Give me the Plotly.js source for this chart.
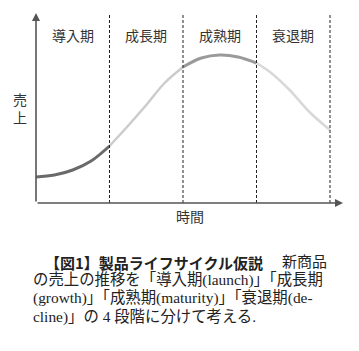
<!DOCTYPE html>
<html><head><meta charset="utf-8">
<script src="https://cdn.plot.ly/plotly-3.0.1.min.js"></script>
<style>html,body{margin:0;padding:0;background:#fff;}#chart{width:359px;height:351px;}</style>
</head><body><div id="chart"></div>
<script>
// Phases (categories)
const phases = ["導入期", "成長期", "成熟期", "衰退期"];
const phaseBounds = [0, 1, 2, 3, 4];
// Sales curve, per phase (x = time, y = sales)
const introX = [0, 0.25, 0.5, 0.75, 1.0];
const introY = [26, 28, 33, 42, 57];
const growthX = [1.0, 1.25, 1.5, 1.75, 2.0];
const growthY = [57, 77, 98, 120, 136];
const maturityX = [2.0, 2.25, 2.5, 2.75, 3.0];
const maturityY = [136, 145, 148, 146, 140];
const declineX = [3.0, 3.2, 3.45, 3.72, 4.0];
const declineY = [140, 130, 113, 91, 73];
const yLabel = "売<br>上";
const xLabel = "時間";
const captionTitle = "【図1】製品ライフサイクル仮説";
const captionLines = [
  "新商品",
  "の売上の推移を「導入期(launch)」「成長期",
  "(growth)」「成熟期(maturity)」「衰退期(de-",
  "cline)」の 4 段階に分けて考える."
];

const serif = "Liberation Serif, DejaVu Serif, Noto Sans CJK JP, serif";
const sans = "Noto Sans CJK JP, sans-serif";

const seg = (x, y, color, w) => ({x, y, type: "scatter", mode: "lines",
  line: {color, width: w, shape: "spline"}, hoverinfo: "skip", showlegend: false});

const data = [
  seg(introX, introY, "#6a6a6a", 3),
  seg(growthX, growthY, "#cccccc", 2.5),
  seg(maturityX, maturityY, "#9a9a9a", 3),
  seg(declineX, declineY, "#d8d8d8", 2.5)
];

const plotTop = 13, plotBottom = 203, H = plotBottom - plotTop;
const py = p => (plotBottom - p) / H; // pixel y -> paper y
const px = p => (p - 36) / 307;

const shapes = phaseBounds.slice(1).map(b => ({type: "line", xref: "x", yref: "paper",
  x0: b, x1: b, y0: 0, y1: 1, line: {color: "#222", width: 1, dash: "3px,2px"}}));

const annotations = [];
phases.forEach((p, i) => annotations.push({xref: "x", yref: "paper",
  x: (phaseBounds[i] + phaseBounds[i + 1]) / 2, y: py(37), yanchor: "middle", text: p, showarrow: false,
  font: {family: serif, size: 14, color: "#333"}}));
// axes with arrows
annotations.push({xref: "paper", yref: "paper", x: 1, y: 0, ax: -307, ay: 0, text: "",
  showarrow: true, arrowhead: 2, arrowsize: 1, arrowwidth: 1.6, arrowcolor: "#555"});
annotations.push({xref: "paper", yref: "paper", x: 0, y: 1, ax: 0, ay: H, text: "",
  showarrow: true, arrowhead: 2, arrowsize: 1, arrowwidth: 1.6, arrowcolor: "#555"});
annotations.push({xref: "paper", yref: "paper", x: px(20), y: py(109), xanchor: "center", yanchor: "middle",
  text: yLabel, showarrow: false, font: {family: serif, size: 14, color: "#333"}});
annotations.push({xref: "paper", yref: "paper", x: px(190), y: py(217), xanchor: "center", yanchor: "middle",
  text: xLabel, showarrow: false, font: {family: serif, size: 14, color: "#333"}});
// caption
annotations.push({xref: "paper", yref: "paper", x: px(43), y: py(262), xanchor: "left", yanchor: "middle",
  text: "<b>" + captionTitle + "</b>", showarrow: false,
  font: {family: sans, size: 15, color: "#222"}});
annotations.push({xref: "paper", yref: "paper", x: px(329), y: py(262), xanchor: "right", yanchor: "middle",
  text: captionLines[0], showarrow: false, font: {family: serif, size: 15, color: "#222"}});
[280, 298, 317].forEach((y, i) => annotations.push({xref: "paper", yref: "paper",
  x: px(31), y: py(y), xanchor: "left", yanchor: "middle", text: captionLines[i + 1], showarrow: false,
  font: {family: serif, size: 15.4, color: "#222"}}));

const layout = {
  width: 359, height: 351,
  margin: {l: 36, r: 16, t: plotTop, b: 351 - plotBottom, pad: 0},
  paper_bgcolor: "#fff", plot_bgcolor: "#fff",
  xaxis: {range: [0, 307 / 73.5], showgrid: false, zeroline: false, showticklabels: false, ticks: "", fixedrange: true},
  yaxis: {range: [0, H], showgrid: false, zeroline: false, showticklabels: false, ticks: "", fixedrange: true},
  shapes, annotations, showlegend: false
};
Plotly.newPlot("chart", data, layout, {displayModeBar: false, staticPlot: true});
</script></body></html>
